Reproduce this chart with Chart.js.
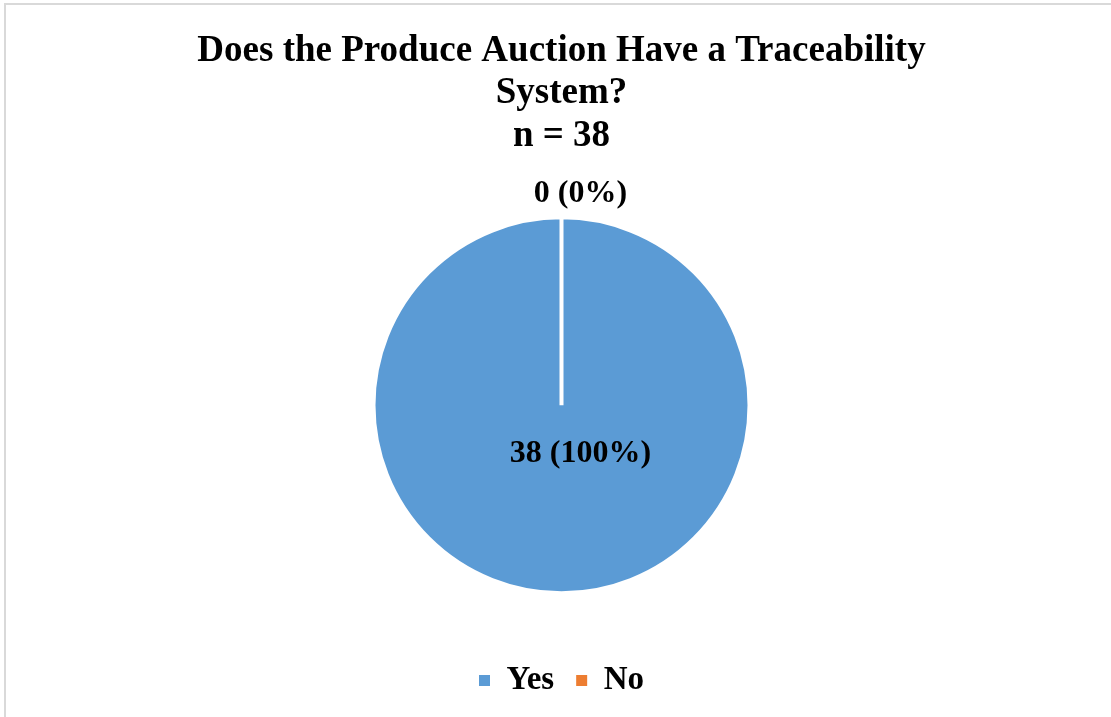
<!DOCTYPE html>
<html>
<head>
<meta charset="utf-8">
<script src="https://cdn.jsdelivr.net/npm/chart.js@4.4.0/dist/chart.umd.min.js"></script>
<style>
  html, body { margin: 0; padding: 0; background: #fff; }
  #wrap { position: relative; width: 1111px; height: 717px; overflow: hidden; }
  #frame { position: absolute; left: 4px; top: 3px; width: 1200px; height: 800px;
           border-left: 2px solid #d9d9d9; border-top: 2px solid #d9d9d9; }
  canvas { position: absolute; left: 0; top: 0; }
</style>
</head>
<body>
<div id="wrap">
  <div id="frame"></div>
  <canvas id="c" width="1111" height="717"></canvas>
</div>
<script>
const titleLines = ["Does the Produce Auction Have a Traceability", "System?", "n = 38"];
const categories = ["Yes", "No"];
const counts = [38, 0];
const colors = ["#5B9BD5", "#ED7D31"];

const total = counts.reduce((a, b) => a + b, 0);
const serif = "'Liberation Serif', 'Times New Roman', serif";

const labelPlugin = {
  id: 'sliceLabels',
  afterDatasetsDraw(chart) {
    const ctx = chart.ctx;
    const meta = chart.getDatasetMeta(0);
    ctx.save();
    ctx.font = "bold 32px " + serif;
    ctx.fillStyle = "#000";
    ctx.textAlign = "center";
    ctx.textBaseline = "middle";
    meta.data.forEach((arc, i) => {
      const v = counts[i];
      const pct = Math.round(v / total * 100);
      const txt = v + " (" + pct + "%)";
      const p = arc.getProps(['x', 'y', 'startAngle', 'endAngle', 'outerRadius']);
      const mid = (p.startAngle + p.endAngle) / 2;
      let dist, dx;
      if (v === 0) { dist = p.outerRadius + 24; dx = 19; }
      else { dist = p.outerRadius * 0.26; dx = 19; }
      ctx.fillText(txt, p.x + Math.cos(mid) * dist + dx, p.y + Math.sin(mid) * dist);
    });
    ctx.restore();
  }
};

new Chart(document.getElementById('c'), {
  type: 'pie',
  data: {
    labels: categories,
    datasets: [{
      data: counts,
      backgroundColor: colors,
      borderColor: "#ffffff",
      borderWidth: 4,
      radius: 188
    }]
  },
  options: {
    responsive: false,
    animation: false,
    layout: { padding: { top: 0, bottom: 10, left: 12, right: 0 } },
    plugins: {
      title: {
        display: true,
        text: titleLines,
        color: "#000",
        font: { family: serif, size: 37, weight: 'bold', lineHeight: 1.15 },
        padding: { top: 30, bottom: 11 }
      },
      legend: {
        position: 'bottom',
        labels: {
          color: "#000",
          font: { family: serif, size: 33, weight: 'bold' },
          boxWidth: 11,
          boxHeight: 11,
          padding: 22,
          generateLabels(chart) {
            const items = Chart.controllers.pie.overrides.plugins.legend.labels.generateLabels(chart);
            items.forEach(it => { it.lineWidth = 0; it.strokeStyle = it.fillStyle; });
            return items;
          }
        }
      },
      tooltip: { enabled: false }
    }
  },
  plugins: [labelPlugin]
});
</script>
</body>
</html>
